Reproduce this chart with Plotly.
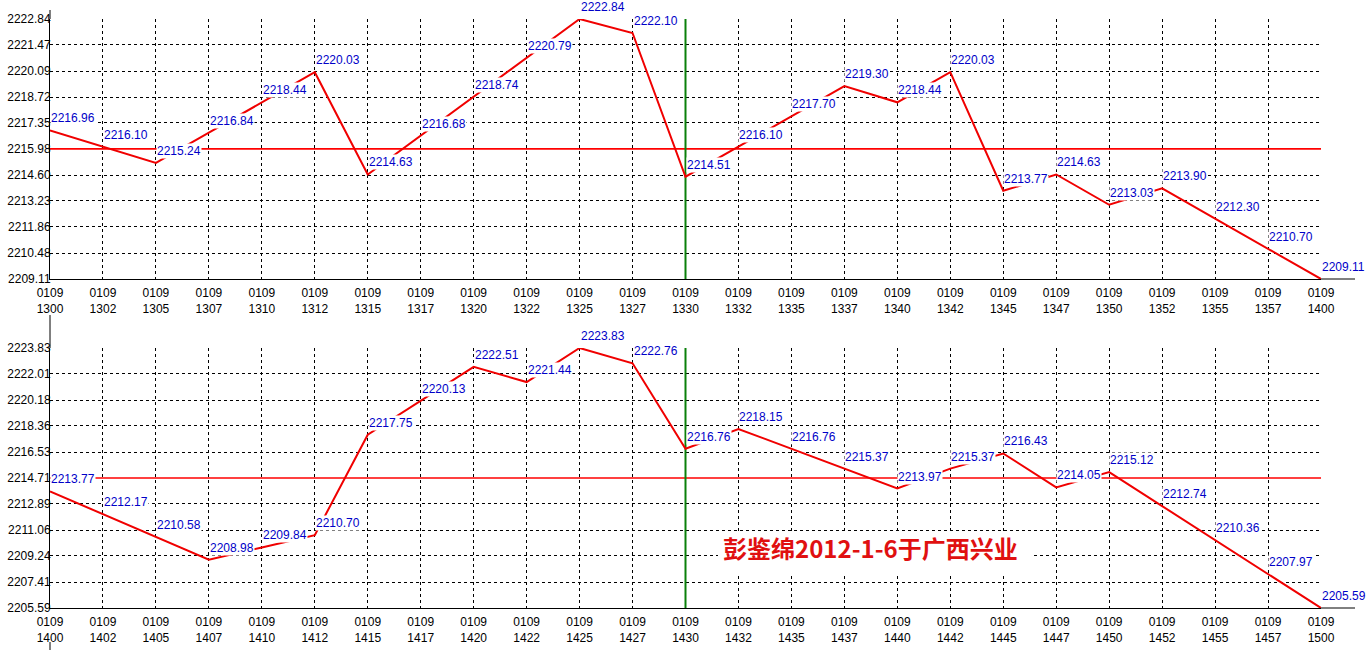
import plotly.graph_objects as go
from plotly.subplots import make_subplots

date_code = "0109"

top_times = ["1300", "1302", "1305", "1307", "1310", "1312", "1315", "1317", "1320",
             "1322", "1325", "1327", "1330", "1332", "1335", "1337", "1340", "1342",
             "1345", "1347", "1350", "1352", "1355", "1357", "1400"]
top_values = [2216.96, 2216.10, 2215.24, 2216.84, 2218.44, 2220.03, 2214.63, 2216.68,
              2218.74, 2220.79, 2222.84, 2222.10, 2214.51, 2216.10, 2217.70, 2219.30,
              2218.44, 2220.03, 2213.77, 2214.63, 2213.03, 2213.90, 2212.30, 2210.70,
              2209.11]
top_ticks = ["2209.11", "2210.48", "2211.86", "2213.23", "2214.60", "2215.98",
             "2217.35", "2218.72", "2220.09", "2221.47", "2222.84"]
top_ref = 2215.98
top_marker_time = "1330"

bottom_times = ["1400", "1402", "1405", "1407", "1410", "1412", "1415", "1417", "1420",
                "1422", "1425", "1427", "1430", "1432", "1435", "1437", "1440", "1442",
                "1445", "1447", "1450", "1452", "1455", "1457", "1500"]
bottom_values = [2213.77, 2212.17, 2210.58, 2208.98, 2209.84, 2210.70, 2217.75, 2220.13,
                 2222.51, 2221.44, 2223.83, 2222.76, 2216.76, 2218.15, 2216.76, 2215.37,
                 2213.97, 2215.37, 2216.43, 2214.05, 2215.12, 2212.74, 2210.36, 2207.97,
                 2205.59]
bottom_ticks = ["2205.59", "2207.41", "2209.24", "2211.06", "2212.89", "2214.71",
                "2216.53", "2218.36", "2220.18", "2222.01", "2223.83"]
bottom_ref = 2214.71
bottom_marker_time = "1430"

watermark = "彭鉴绵2012-1-6于广西兴业"

W, H = 1366, 658
ML, MR, MT, MB = 50, 45, 19, 50
PW = W - ML - MR
PH = H - MT - MB


def px_x(p):
    return (p - ML) / PW


def px_y(p):
    return (H - MB - p) / PH


LINE_RED = "#f00000"
LABEL_BLUE = "#0000c8"
FONT = "Liberation Sans"
GRID = dict(gridcolor="black", gridwidth=1, griddash="3px,3px")

fig = make_subplots(rows=2, cols=1)

panels = [
    (top_times, top_values, top_ticks, top_ref, top_marker_time, 1),
    (bottom_times, bottom_values, bottom_ticks, bottom_ref, bottom_marker_time, 2),
]

annotations = []
for times, values, ticks, ref, mtime, row in panels:
    cats = [f"{date_code}<br>{t}" for t in times]
    tv = [float(s) for s in ticks]
    ymin, ymax = tv[0], tv[-1]
    # reference mid line
    fig.add_trace(go.Scatter(x=[cats[0], cats[-1]], y=[ref, ref], mode="lines",
                             line=dict(color="#ff0000", width=1.6), hoverinfo="skip"),
                  row=row, col=1)
    # green time marker
    mc = f"{date_code}<br>{mtime}"
    fig.add_trace(go.Scatter(x=[mc, mc], y=[ymin, ymax], mode="lines",
                             line=dict(color="#0a800a", width=2), hoverinfo="skip"),
                  row=row, col=1)
    # data line
    fig.add_trace(go.Scatter(x=cats, y=values, mode="lines",
                             line=dict(color=LINE_RED, width=2)),
                  row=row, col=1)
    axn = "" if row == 1 else "2"
    for c, v in zip(cats, values):
        annotations.append(dict(
            x=c, y=v, xref="x" + axn, yref="y" + axn, text=f"{v:.2f}",
            showarrow=False, xanchor="left", yanchor="bottom", yshift=4,
            bgcolor="white", borderpad=0,
            font=dict(family=FONT, size=12, color=LABEL_BLUE)))
    fig.update_xaxes(type="category", categoryorder="array", categoryarray=cats,
                     range=[0, len(cats) - 1], showgrid=True, **GRID,
                     showline=True, linecolor="black",
                     linewidth=1, ticks="", zeroline=False, automargin=False,
                     ticklabelstandoff=3,
                     tickfont=dict(family=FONT, size=12, color="black"),
                     row=row, col=1)
    grid_vals = [v for v, s in zip(tv, ticks) if abs(v - ref) > 1e-6]
    fig.update_yaxes(range=[ymin, ymax], tickvals=tv, ticktext=ticks,
                     showgrid=False,
                     minor=dict(tickmode="array", tickvals=grid_vals, showgrid=True,
                                ticks="", **GRID),
                     showline=True, linecolor="black",
                     linewidth=1, ticks="", zeroline=False, ticklabelstandoff=-4,
                     automargin=False,
                     tickfont=dict(family=FONT, size=12, color="black"),
                     row=row, col=1)

top_dom = [px_y(279), 1.0]
bot_dom = [0.0, px_y(348)]
fig.update_layout(yaxis=dict(domain=top_dom), yaxis2=dict(domain=bot_dom))

shapes = [
    # white box behind the watermark
    dict(type="rect", xref="paper", yref="paper", x0=px_x(718), x1=px_x(1033),
         y0=px_y(575), y1=px_y(534), fillcolor="white", line=dict(width=0),
         layer="above"),
    # axis line extensions
    dict(type="line", xref="paper", yref="paper", x0=1, x1=px_x(1355),
         y0=top_dom[0], y1=top_dom[0], line=dict(color="black", width=1)),
    dict(type="line", xref="paper", yref="paper", x0=1, x1=px_x(1355),
         y0=0, y1=0, line=dict(color="black", width=1)),
    dict(type="line", xref="paper", yref="paper", x0=0, x1=0,
         y0=1, y1=px_y(10), line=dict(color="black", width=1)),
    dict(type="line", xref="paper", yref="paper", x0=0, x1=0,
         y0=bot_dom[1], y1=px_y(315), line=dict(color="black", width=1)),
    dict(type="line", xref="paper", yref="paper", x0=0, x1=0,
         y0=px_y(642), y1=px_y(650), line=dict(color="black", width=1)),
]
annotations.append(dict(
    x=px_x(721), y=px_y(547), xref="paper", yref="paper", text=watermark,
    showarrow=False, xanchor="left", yanchor="middle",
    font=dict(family="Noto Sans CJK SC", size=24, color="#e01010", weight=700)))

fig.update_layout(width=W, height=H, margin=dict(l=ML, r=MR, t=MT, b=MB),
                  plot_bgcolor="white", paper_bgcolor="white", showlegend=False,
                  annotations=annotations, shapes=shapes)

fig.write_html("out.html", config={"displayModeBar": False},
               post_script="document.body.style.margin='0';"
                           "document.body.style.overflow='hidden';")
